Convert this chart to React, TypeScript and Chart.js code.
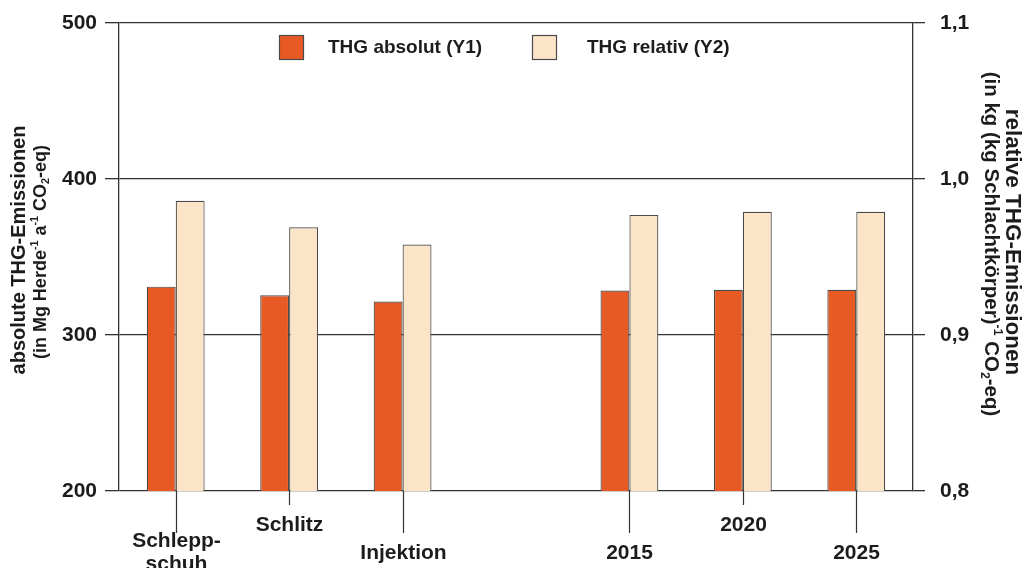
import { useEffect, useRef } from "react";
import { Chart, registerables } from "chart.js";

Chart.register(...registerables);

// ---- data ----
const categories: string[][] = [
  ["Schlepp-", "schuh"],
  ["Schlitz"],
  ["Injektion"],
  [],
  ["2015"],
  ["2020"],
  ["2025"],
];
const labelLevel: (number | null)[] = [1, 0, 1, null, 1, 0, 1];
const absoluteValues: (number | null)[] = [331, 325.5, 321.5, null, 328.5, 329, 329];
const relativeValues: (number | null)[] = [0.986, 0.969, 0.958, null, 0.977, 0.979, 0.979];
const leftTicks = [200, 300, 400, 500];
const rightTicks = [0.8, 0.9, 1.0, 1.1];
const seriesLabels = ["THG absolut (Y1)", "THG relativ (Y2)"];

type Seg = { t: string; sup?: boolean; sub?: boolean };
const leftTitle: Seg[][] = [
  [{ t: "absolute THG-Emissionen" }],
  [
    { t: "(in Mg Herde" },
    { t: "-1", sup: true },
    { t: " a" },
    { t: "-1", sup: true },
    { t: " CO" },
    { t: "2", sub: true },
    { t: "-eq)" },
  ],
];
const rightTitle: Seg[][] = [
  [{ t: "relative THG-Emissionen" }],
  [
    { t: "(in kg (kg Schlachtkörper)" },
    { t: "-1", sup: true },
    { t: " CO" },
    { t: "2", sub: true },
    { t: "-eq)" },
  ],
];

// ---- styles ----
const FONT = '"Liberation Sans", Arial, Helvetica, sans-serif';
const TEXT = "#1c1c1c";
const LINE = "#333333";
const ORANGE = "#E85A24";
const CREAM = "#FCE4C8";
const BORDER = "#4a4a4a";

function drawRich(
  ctx: CanvasRenderingContext2D,
  lines: Seg[][],
  centers: [number, number][],
  rot: number,
  sizes: number[]
) {
  lines.forEach((segs, li) => {
    const [cx, cy] = centers[li];
    const size = sizes[li];
    ctx.save();
    ctx.translate(cx, cy);
    ctx.rotate(rot);
    const fontFor = (s: Seg) =>
      `bold ${s.sup || s.sub ? size * 0.6 : size}px ${FONT}`;
    let total = 0;
    segs.forEach((s) => {
      ctx.font = fontFor(s);
      total += ctx.measureText(s.t).width;
    });
    let x = -total / 2;
    ctx.textBaseline = "middle";
    ctx.textAlign = "left";
    ctx.fillStyle = TEXT;
    segs.forEach((s) => {
      ctx.font = fontFor(s);
      const dy = s.sup ? -size * 0.33 : s.sub ? size * 0.3 : 0;
      ctx.fillText(s.t, x, dy);
      x += ctx.measureText(s.t).width;
    });
    ctx.restore();
  });
}

const customPlugin = {
  id: "custom",
  afterDraw(chart: any) {
    const ctx: CanvasRenderingContext2D = chart.ctx;
    const area = chart.chartArea;
    const xs = chart.scales.x;

    // category ticks and labels
    ctx.save();
    ctx.strokeStyle = LINE;
    ctx.lineWidth = 1.2;
    ctx.fillStyle = TEXT;
    ctx.font = `bold 21px ${FONT}`;
    ctx.textAlign = "center";
    ctx.textBaseline = "middle";
    categories.forEach((lines, i) => {
      const lvl = labelLevel[i];
      if (!lines.length || lvl === null) return;
      const px = Math.round(xs.getPixelForValue(i)) + 0.5;
      const len = lvl ? 42 : 14;
      ctx.beginPath();
      ctx.moveTo(px, area.bottom);
      ctx.lineTo(px, area.bottom + len);
      ctx.stroke();
      const cy = area.bottom + (lvl ? 62 : 34);
      const lh = 23;
      lines.forEach((l, k) => {
        ctx.fillText(l, px, cy + (k - (lines.length - 1) / 2) * lh);
      });
    });
    ctx.restore();

    // legend
    const legendX = [279, 532];
    const textOff = [49, 55];
    ctx.save();
    chart.data.datasets.forEach((ds: any, i: number) => {
      const bx = legendX[i];
      ctx.fillStyle = ds.backgroundColor;
      ctx.fillRect(bx, 35, 24, 24);
      ctx.strokeStyle = BORDER;
      ctx.lineWidth = 1.2;
      ctx.strokeRect(bx + 0.5, 35.5, 24, 24);
      ctx.fillStyle = TEXT;
      ctx.font = `bold 19px ${FONT}`;
      ctx.textAlign = "left";
      ctx.textBaseline = "middle";
      ctx.fillText(ds.label, bx + textOff[i], 47.5);
    });
    ctx.restore();

    // axis titles
    drawRich(ctx, leftTitle, [[19, 250], [41, 252]], -Math.PI / 2, [20, 18]);
    drawRich(ctx, rightTitle, [[1012, 242], [991, 244]], Math.PI / 2, [22.5, 20.5]);
  },
};

const noEdgePadding = (s: any) => {
  s.paddingTop = 0;
  s.paddingBottom = 0;
};

export default function App() {
  const ref = useRef<HTMLCanvasElement | null>(null);

  useEffect(() => {
    if (!ref.current) return;
    const chart = new Chart(ref.current, {
      type: "bar",
      data: {
        labels: categories.map((c) => c.join(" ")),
        datasets: [
          {
            label: seriesLabels[0],
            data: absoluteValues,
            backgroundColor: ORANGE,
            borderColor: BORDER,
            borderWidth: 1.2,
            yAxisID: "y",
            barPercentage: 1,
            categoryPercentage: 0.51,
          },
          {
            label: seriesLabels[1],
            data: relativeValues,
            backgroundColor: CREAM,
            borderColor: BORDER,
            borderWidth: 1.2,
            yAxisID: "y1",
            barPercentage: 1,
            categoryPercentage: 0.51,
          },
        ],
      },
      options: {
        animation: false,
        responsive: true,
        maintainAspectRatio: false,
        layout: { padding: { top: 23, left: 0, right: 0, bottom: 0 } },
        plugins: {
          legend: { display: false },
          tooltip: { enabled: false },
        },
        scales: {
          x: {
            grid: { display: false },
            border: { display: false },
            ticks: { display: false },
            afterFit: (s: any) => {
              s.height = 77;
            },
          },
          y: {
            position: "left",
            min: leftTicks[0],
            max: leftTicks[leftTicks.length - 1],
            afterBuildTicks: (s: any) => {
              s.ticks = leftTicks.map((v) => ({ value: v }));
            },
            afterFit: (s: any) => {
              s.width = 119;
              noEdgePadding(s);
            },
            grid: {
              color: LINE,
              lineWidth: 1.3,
              tickLength: 14,
              tickColor: LINE,
            },
            border: { display: true, color: LINE, width: 1.3 },
            ticks: {
              padding: 8,
              color: TEXT,
              font: { family: FONT, size: 21, weight: "bold" },
              callback: (v: any) => String(v),
            },
          },
          y1: {
            position: "right",
            min: rightTicks[0],
            max: rightTicks[rightTicks.length - 1],
            afterBuildTicks: (s: any) => {
              s.ticks = rightTicks.map((v) => ({ value: v }));
            },
            afterFit: (s: any) => {
              s.width = 111;
              noEdgePadding(s);
            },
            grid: {
              drawOnChartArea: false,
              tickLength: 12,
              tickColor: LINE,
              lineWidth: 1.3,
            },
            border: { display: true, color: LINE, width: 1.3 },
            ticks: {
              padding: 15,
              color: TEXT,
              font: { family: FONT, size: 21, weight: "bold" },
              callback: (v: any) => Number(v).toFixed(1).replace(".", ","),
            },
          },
        },
      },
      plugins: [customPlugin],
    });
    return () => chart.destroy();
  }, []);

  return (
    <div
      style={{
        position: "fixed",
        left: 0,
        top: 0,
        width: 1024,
        height: 568,
        background: "#ffffff",
      }}
    >
      <canvas ref={ref} />
    </div>
  );
}
